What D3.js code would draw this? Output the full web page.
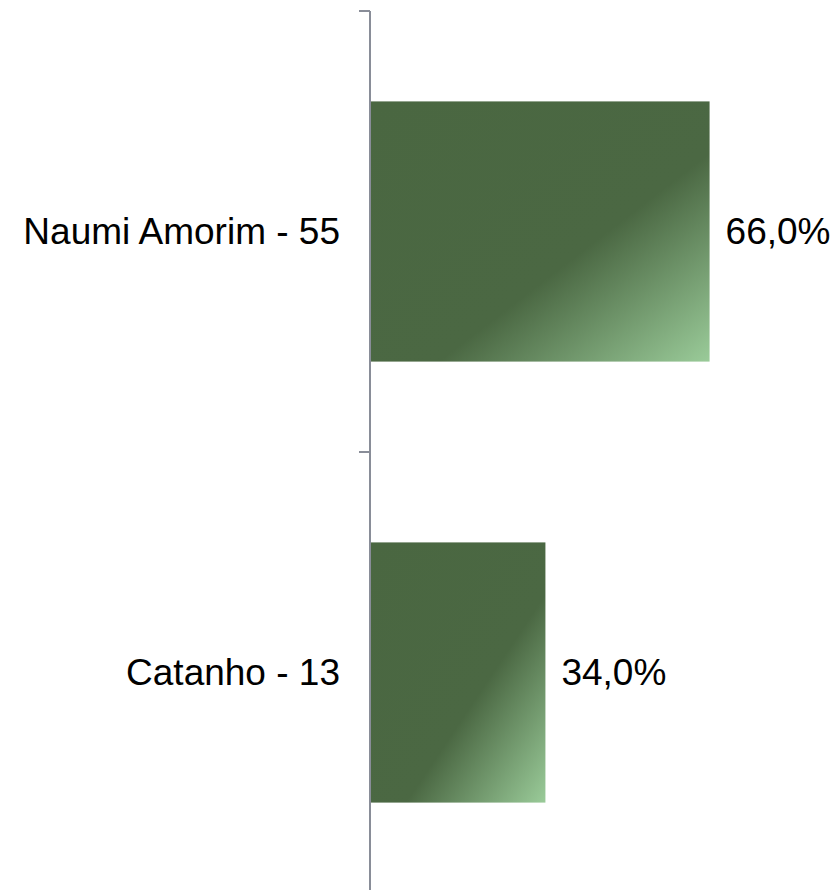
<!DOCTYPE html>
<html>
<head>
<meta charset="utf-8">
<script src="https://cdn.jsdelivr.net/npm/d3@7"></script>
<style>
  body { margin: 0; background: #fff; }
  svg { display: block; }
  text { font-family: "Liberation Sans", Arial, sans-serif; fill: #000; }
</style>
</head>
<body>
<svg width="835" height="890"></svg>
<script>
  'use strict';

  // chart data
  const categories = ['Naumi Amorim - 55', 'Catanho - 13'];
  const shares = [0.66, 0.34];
  const valueLabels = ['66,0%', '34,0%'];

  const svg = d3.select('svg');

  const axisX = 370;

  const x = d3.scaleLinear().domain([0, 1]).range([axisX + 1, axisX + 514]);
  const y = d3.scaleBand().domain(categories).range([11, 893])
      .paddingInner(0.41).paddingOuter(0.205);

  // diagonal gradient, dark most of the way, light in bottom-right corner
  const grad = svg.append('defs').append('linearGradient')
      .attr('id', 'barGrad')
      .attr('x1', 0).attr('y1', 0).attr('x2', 1).attr('y2', 1);
  grad.append('stop').attr('offset', 0).attr('stop-color', '#4a6741');
  grad.append('stop').attr('offset', 0.6).attr('stop-color', '#4b6843');
  grad.append('stop').attr('offset', 1).attr('stop-color', '#9acb99');

  svg.selectAll('rect.bar').data(categories)
    .enter().append('rect')
      .attr('class', 'bar')
      .attr('x', x(0))
      .attr('y', d => y(d))
      .attr('width', (d, i) => x(shares[i]) - x(0))
      .attr('height', y.bandwidth())
      .attr('fill', 'url(#barGrad)');

  // vertical axis with ticks at band boundaries
  const step = y.step();
  const tickYs = [0, 1, 2].map(i => 11 + i * step);

  svg.append('line')
      .attr('x1', axisX).attr('x2', axisX)
      .attr('y1', 11).attr('y2', 893)
      .attr('stroke', '#898d98').attr('stroke-width', 2);

  svg.selectAll('line.tick').data(tickYs)
    .enter().append('line')
      .attr('class', 'tick')
      .attr('x1', axisX - 11).attr('x2', axisX)
      .attr('y1', d => d).attr('y2', d => d)
      .attr('stroke', '#898d98').attr('stroke-width', 2);

  // category labels
  svg.selectAll('text.cat').data(categories)
    .enter().append('text')
      .attr('class', 'cat')
      .attr('x', 340)
      .attr('y', d => y(d) + y.bandwidth() / 2)
      .attr('dy', '0.35em')
      .attr('text-anchor', 'end')
      .attr('font-size', 37)
      .text(d => d);

  // value labels
  svg.selectAll('text.val').data(categories)
    .enter().append('text')
      .attr('class', 'val')
      .attr('x', (d, i) => x(shares[i]) + 16)
      .attr('y', d => y(d) + y.bandwidth() / 2)
      .attr('dy', '0.35em')
      .attr('font-size', 37)
      .text((d, i) => valueLabels[i]);
</script>
</body>
</html>
